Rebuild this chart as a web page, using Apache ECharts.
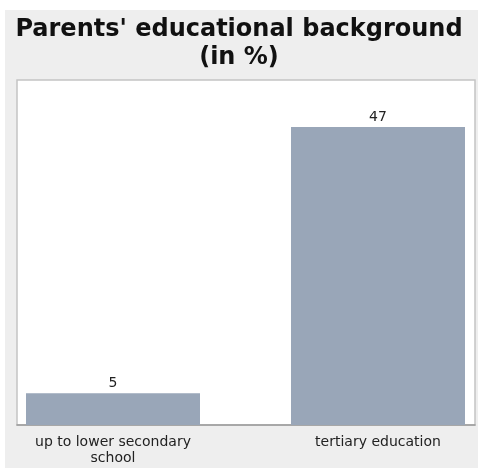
<!DOCTYPE html>
<html><head><meta charset="utf-8">
<script src="https://cdn.jsdelivr.net/npm/echarts@6/dist/echarts.min.js"></script>
<style>html,body{margin:0;padding:0;background:#fff}#c{width:478px;height:471px}</style>
</head><body><div id="c"></div>
<script>
const titleText = "Parents' educational background\n(in %)";
const categories = ["up to lower secondary\nschool", "tertiary education"];
const values = [5, 47];
const yMax = 54.4;

const chart = echarts.init(document.getElementById('c'), null, {renderer: 'canvas'});
chart.setOption({
  animation: false,
  backgroundColor: '#ffffff',
  graphic: [{
    type: 'rect', z: -10, silent: true,
    shape: {x: 5, y: 10, width: 473, height: 458},
    style: {fill: '#eeeeee'}
  }],
  title: {
    text: titleText, left: 'center', top: 16, padding: 0,
    textStyle: {fontFamily: 'DejaVu Sans', fontWeight: 'bold', fontSize: 24, lineHeight: 28, color: '#111'}
  },
  grid: [
    {left: 17, right: 3, top: 80, bottom: 46, show: true, backgroundColor: '#ffffff', borderColor: '#c4c4c4', borderWidth: 1.5, containLabel: false},
    {left: 113, right: 100, top: 80, bottom: 46, containLabel: false}
  ],
  xAxis: [
    {gridIndex: 0, type: 'value', min: 0, max: 1, show: true, axisLine: {show: true, lineStyle: {color: '#9a9a9a', width: 1.5}}, axisTick: {show: false}, axisLabel: {show: false}, splitLine: {show: false}},
    {gridIndex: 1, type: 'category', data: categories, boundaryGap: false,
      axisLine: {show: false}, axisTick: {show: false}, splitLine: {show: false},
      axisLabel: {margin: 9, fontFamily: 'DejaVu Sans', fontSize: 14, color: '#222', lineHeight: 16, interval: 0}}
  ],
  yAxis: [
    {gridIndex: 0, type: 'value', min: 0, max: 1, show: false},
    {gridIndex: 1, type: 'value', min: 0, max: yMax, show: false}
  ],
  series: [{
    type: 'bar', xAxisIndex: 1, yAxisIndex: 1, data: values, barWidth: 174, clip: false,
    itemStyle: {color: '#99a6b8'},
    label: {show: true, position: 'top', distance: 3, fontFamily: 'DejaVu Sans', fontSize: 14, color: '#222'}
  }]
});
</script></body></html>
